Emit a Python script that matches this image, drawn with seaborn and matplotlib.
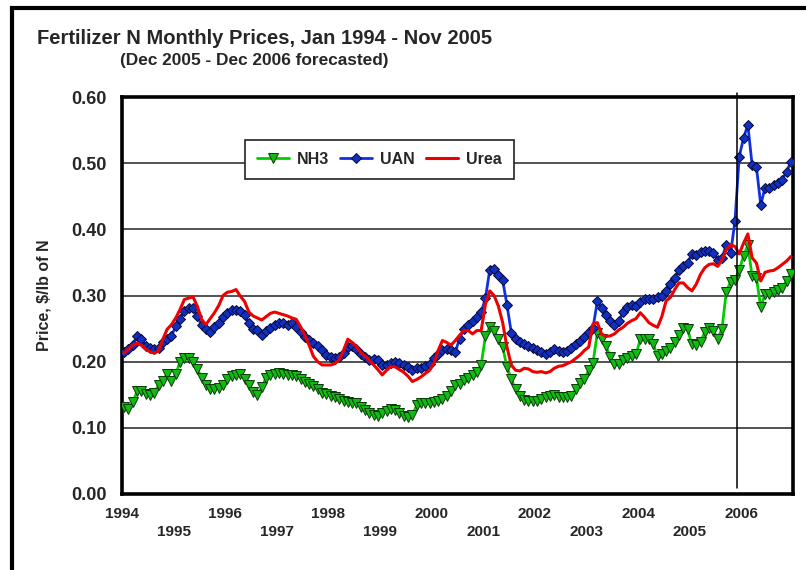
import matplotlib
matplotlib.use("Agg")
import matplotlib.pyplot as plt
from matplotlib.patches import Rectangle
import numpy as np
import pandas as pd
import seaborn as sns

### 1) Monthly prices, Jan 1994 - Dec 2006 ($/lb of N)

years = list(range(1994, 2007))

nh3 = [0.131, 0.129, 0.139, 0.155, 0.156, 0.151, 0.149, 0.153, 0.164, 0.171, 0.182, 0.171,
       0.181, 0.200, 0.205, 0.205, 0.200, 0.189, 0.176, 0.164, 0.159, 0.159, 0.160, 0.164,
       0.174, 0.179, 0.180, 0.181, 0.174, 0.164, 0.154, 0.149, 0.161, 0.176, 0.180, 0.181,
       0.183, 0.181, 0.180, 0.180, 0.178, 0.174, 0.169, 0.167, 0.163, 0.158, 0.153, 0.151,
       0.148, 0.146, 0.143, 0.141, 0.139, 0.138, 0.137, 0.132, 0.127, 0.123, 0.120, 0.118,
       0.123, 0.125, 0.128, 0.127, 0.122, 0.118, 0.117, 0.119, 0.134, 0.137, 0.137, 0.137,
       0.139, 0.141, 0.144, 0.148, 0.155, 0.164, 0.167, 0.172, 0.176, 0.180, 0.185, 0.195,
       0.239, 0.252, 0.247, 0.234, 0.222, 0.192, 0.174, 0.158, 0.148, 0.142, 0.140, 0.140,
       0.141, 0.144, 0.147, 0.148, 0.149, 0.147, 0.147, 0.146, 0.148, 0.158, 0.168, 0.174,
       0.187, 0.198, 0.243, 0.234, 0.223, 0.207, 0.197, 0.196, 0.203, 0.206, 0.208, 0.211,
       0.234, 0.234, 0.234, 0.226, 0.209, 0.212, 0.216, 0.221, 0.229, 0.241, 0.251, 0.249,
       0.226, 0.225, 0.230, 0.245, 0.251, 0.246, 0.235, 0.250, 0.306, 0.321, 0.324, 0.338,
       0.360, 0.376, 0.329, 0.327, 0.282, 0.302, 0.302, 0.305, 0.308, 0.312, 0.322, 0.333]

uan = [0.215, 0.219, 0.225, 0.239, 0.234, 0.224, 0.220, 0.219, 0.221, 0.229, 0.235, 0.239,
       0.254, 0.264, 0.276, 0.281, 0.281, 0.269, 0.255, 0.249, 0.245, 0.253, 0.258, 0.268,
       0.273, 0.278, 0.278, 0.276, 0.270, 0.259, 0.250, 0.248, 0.241, 0.246, 0.251, 0.255,
       0.258, 0.258, 0.256, 0.258, 0.253, 0.245, 0.238, 0.233, 0.228, 0.223, 0.217, 0.210,
       0.207, 0.206, 0.207, 0.213, 0.222, 0.224, 0.219, 0.212, 0.207, 0.203, 0.204, 0.202,
       0.195, 0.195, 0.198, 0.200, 0.198, 0.195, 0.192, 0.188, 0.190, 0.190, 0.193, 0.197,
       0.205, 0.212, 0.217, 0.219, 0.217, 0.215, 0.235, 0.250, 0.256, 0.262, 0.268, 0.275,
       0.296, 0.339, 0.340, 0.331, 0.323, 0.286, 0.244, 0.234, 0.230, 0.226, 0.224, 0.221,
       0.218, 0.215, 0.211, 0.215, 0.219, 0.216, 0.215, 0.216, 0.220, 0.226, 0.231, 0.238,
       0.245, 0.251, 0.291, 0.281, 0.271, 0.262, 0.255, 0.261, 0.275, 0.282, 0.286, 0.284,
       0.290, 0.294, 0.295, 0.294, 0.297, 0.299, 0.307, 0.318, 0.327, 0.339, 0.344, 0.349,
       0.363, 0.361, 0.365, 0.368, 0.367, 0.364, 0.354, 0.357, 0.377, 0.364, 0.412, 0.510,
       0.538, 0.558, 0.497, 0.494, 0.437, 0.463, 0.462, 0.467, 0.470, 0.475, 0.487, 0.502]

urea = [0.213, 0.219, 0.225, 0.228, 0.225, 0.219, 0.215, 0.213, 0.216, 0.234, 0.249, 0.256,
        0.266, 0.279, 0.294, 0.296, 0.298, 0.284, 0.264, 0.256, 0.265, 0.274, 0.285, 0.300,
        0.305, 0.306, 0.309, 0.299, 0.291, 0.275, 0.269, 0.266, 0.263, 0.268, 0.273, 0.275,
        0.273, 0.271, 0.269, 0.266, 0.264, 0.253, 0.240, 0.225, 0.208, 0.200, 0.195, 0.195,
        0.195, 0.197, 0.203, 0.217, 0.234, 0.229, 0.223, 0.214, 0.208, 0.202, 0.195, 0.188,
        0.180, 0.187, 0.193, 0.192, 0.188, 0.184, 0.178, 0.170, 0.173, 0.177, 0.182, 0.187,
        0.197, 0.217, 0.232, 0.229, 0.225, 0.232, 0.240, 0.247, 0.247, 0.242, 0.247, 0.247,
        0.287, 0.307, 0.300, 0.284, 0.259, 0.222, 0.195, 0.187, 0.186, 0.190, 0.189, 0.185,
        0.184, 0.185, 0.183, 0.185, 0.190, 0.193, 0.194, 0.197, 0.200, 0.205, 0.210, 0.217,
        0.222, 0.257, 0.259, 0.242, 0.238, 0.239, 0.242, 0.248, 0.252, 0.258, 0.262, 0.265,
        0.274, 0.267, 0.259, 0.255, 0.252, 0.268, 0.292, 0.297, 0.309, 0.319, 0.319, 0.312,
        0.307, 0.317, 0.332, 0.342, 0.347, 0.348, 0.344, 0.354, 0.369, 0.377, 0.374, 0.363,
        0.379, 0.393, 0.357, 0.349, 0.322, 0.335, 0.337, 0.338, 0.342, 0.347, 0.352, 0.359]

### 2) Dataframe (month index 0 = Jan 1994)

df = pd.DataFrame({"month": np.arange(len(nh3)), "NH3": nh3, "UAN": uan, "Urea": urea})
forecast_start = 142.5   # Dec 2005

### 3) Plot

sns.set_style("white")
plt.rcParams["font.family"] = ["Liberation Sans", "DejaVu Sans"]
plt.rcParams["font.weight"] = "bold"

fig = plt.figure(figsize=(8.06, 5.70), dpi=100)
ax = fig.add_axes([122/806, 1 - 494/570, 671/806, 397/570])

sns.lineplot(data=df, x="month", y="NH3", ax=ax, color="#00cc00", lw=2,
             marker="v", markersize=7, markerfacecolor="#11bb11",
             markeredgecolor="#0a3a0a", markeredgewidth=0.7, label="NH3", zorder=3)
sns.lineplot(data=df, x="month", y="UAN", ax=ax, color="#1030e0", lw=2,
             marker="D", markersize=5, markerfacecolor="#1030c0",
             markeredgecolor="#08083a", markeredgewidth=0.7, label="UAN", zorder=4)
sns.lineplot(data=df, x="month", y="Urea", ax=ax, color="#ee0000", lw=2.2,
             label="Urea", zorder=5)

ax.axvline(forecast_start, ymin=0.015, ymax=1.01, color="black", lw=1.1,
           clip_on=False, zorder=6)

ax.set_xlim(-0.5, 155.5)
ax.set_ylim(0, 0.6)
ax.set_yticks(np.arange(0, 0.61, 0.1))
ax.set_yticklabels([f"{v:.2f}" for v in np.arange(0, 0.61, 0.1)], fontsize=13, fontweight="bold")

year_pos = [12 * k - 0.5 for k in range(len(years))]
year_lab = [str(y) if k % 2 == 0 else "\n" + str(y) for k, y in enumerate(years)]
ax.set_xticks(year_pos)
ax.set_xticklabels(year_lab, fontsize=11, fontweight="bold", linespacing=1.45)
ax.set_xticks(np.arange(-0.5, 156, 1), minor=True)
ax.tick_params(axis="x", which="both", length=6, width=0.8, color="#777777", pad=3)
ax.tick_params(axis="y", length=7, width=1.5, color="black", pad=4)

ax.yaxis.grid(True, color="#444444", lw=1.3)
ax.set_axisbelow(True)
for sp in ax.spines.values():
    sp.set_visible(True)
    sp.set_color("black")
    sp.set_linewidth(2.6)

ax.set_xlabel("")
ax.set_ylabel("Price, $/lb of N", fontsize=11.5, fontweight="bold", labelpad=14)

leg = ax.legend(loc="upper left", bbox_to_anchor=(0.183, 0.892), borderaxespad=0,
                ncol=3, frameon=True, fancybox=False, edgecolor="#222222", framealpha=1,
                fontsize=11.5, handlelength=2.0, columnspacing=0.7, handletextpad=0.5,
                borderpad=0.75)
leg.get_frame().set_linewidth(1.2)
for t in leg.get_texts():
    t.set_fontweight("bold")

fig.text(37/806, 1 - 39/570, "Fertilizer N Monthly Prices, Jan 1994 - Nov 2005",
         fontsize=14.5, fontweight="bold", va="center", ha="left")
fig.text(254/806, 1 - 61/570, "(Dec 2005 - Dec 2006 forecasted)",
         fontsize=12.4, fontweight="bold", va="center", ha="center")

# outer chart frame (only left and top edges fall inside the picture)
fig.patches.append(Rectangle((12/806, -0.1), 1.2, 1 - 8/570 + 0.1, transform=fig.transFigure,
                             fill=False, edgecolor="black", lw=3))

plt.savefig("out.png", dpi=100)
